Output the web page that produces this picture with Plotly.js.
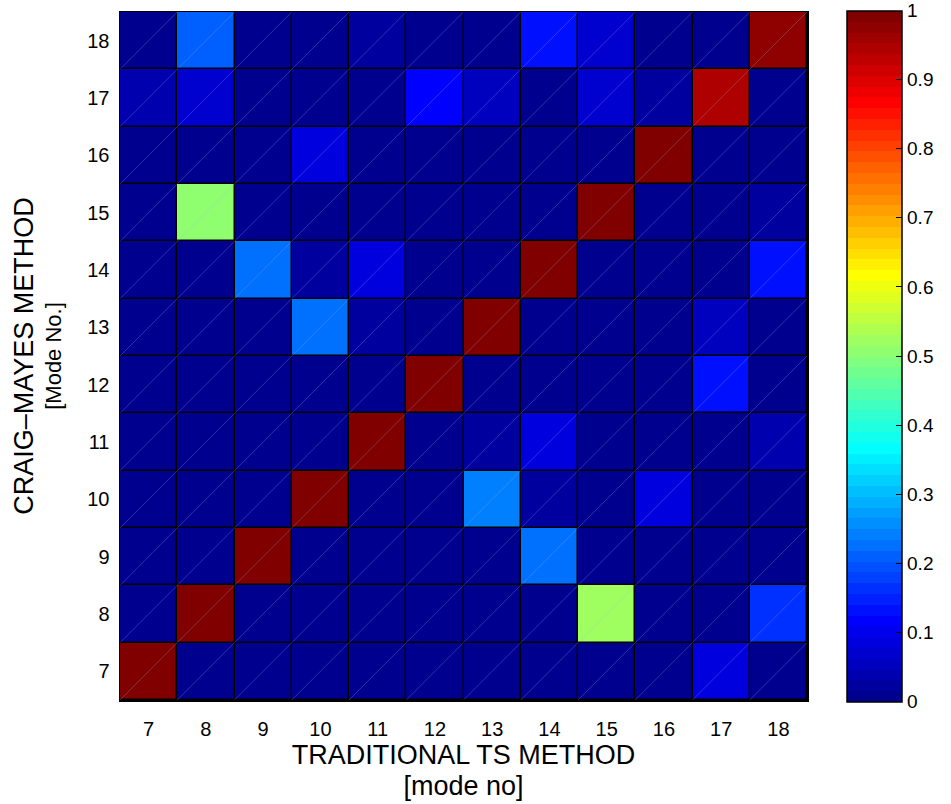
<!DOCTYPE html>
<html>
<head>
<meta charset="utf-8">
<script src="https://cdn.plot.ly/plotly-3.0.1.min.js"></script>
<style>html,body{margin:0;padding:0;background:#fff;}#chart{width:951px;height:804px;}</style>
</head>
<body>
<div id="chart"></div>
<script>
// Mode numbers (traditional TS method on x, Craig-Mayes method on y)
const xModes = [7, 8, 9, 10, 11, 12, 13, 14, 15, 16, 17, 18];
const yModes = [7, 8, 9, 10, 11, 12, 13, 14, 15, 16, 17, 18];

// MAC values, one row per Craig-Mayes mode (7 .. 18), columns are TS modes 7 .. 18
const mode7  = [0.99, 0.008, 0.008, 0.008, 0.008, 0.008, 0.008, 0.008, 0.008, 0.008, 0.085, 0.008];
const mode8  = [0.008, 0.99, 0.008, 0.008, 0.008, 0.008, 0.008, 0.008, 0.52, 0.008, 0.008, 0.16];
const mode9  = [0.008, 0.008, 0.99, 0.008, 0.008, 0.008, 0.008, 0.225, 0.008, 0.008, 0.008, 0.008];
const mode10 = [0.008, 0.008, 0.008, 0.99, 0.008, 0.008, 0.235, 0.02, 0.008, 0.085, 0.008, 0.008];
const mode11 = [0.008, 0.008, 0.008, 0.008, 0.99, 0.008, 0.025, 0.085, 0.008, 0.008, 0.005, 0.04];
const mode12 = [0.008, 0.008, 0.008, 0.008, 0.008, 0.99, 0.008, 0.008, 0.008, 0.008, 0.14, 0.008];
const mode13 = [0.008, 0.008, 0.008, 0.225, 0.02, 0.008, 0.99, 0.008, 0.008, 0.008, 0.055, 0.008];
const mode14 = [0.008, 0.008, 0.225, 0.025, 0.085, 0.008, 0.008, 0.99, 0.008, 0.008, 0.008, 0.13];
const mode15 = [0.008, 0.51, 0.008, 0.008, 0.008, 0.008, 0.008, 0.008, 0.99, 0.008, 0.008, 0.025];
const mode16 = [0.008, 0.008, 0.008, 0.085, 0.008, 0.008, 0.008, 0.008, 0.008, 0.99, 0.008, 0.008];
const mode17 = [0.04, 0.07, 0.008, 0.008, 0.008, 0.115, 0.055, 0.008, 0.07, 0.025, 0.945, 0.008];
const mode18 = [0.008, 0.21, 0.008, 0.008, 0.025, 0.008, 0.008, 0.14, 0.07, 0.008, 0.008, 0.975];

const zValues = [mode7, mode8, mode9, mode10, mode11, mode12, mode13, mode14, mode15, mode16, mode17, mode18];

// Colorbar ticks
const cbTicks = [0, 0.1, 0.2, 0.3, 0.4, 0.5, 0.6, 0.7, 0.8, 0.9, 1];
const cbTickText = ['0', '0.1', '0.2', '0.3', '0.4', '0.5', '0.6', '0.7', '0.8', '0.9', '1'];

// MATLAB-style jet(64), drawn as discrete steps
function jet64() {
  const m = 64, n = 16;
  const u = [];
  for (let j = 1; j <= n; j++) u.push(j / n);
  for (let j = 0; j < n - 1; j++) u.push(1);
  for (let j = n; j >= 1; j--) u.push(j / n);
  const get = (idx) => (idx >= 1 && idx <= u.length) ? u[idx - 1] : 0;
  const scale = [];
  for (let i = 1; i <= m; i++) {
    const r = get(i - 24), g = get(i - 8), b = get(i + 8);
    const c = 'rgb(' + Math.round(r * 255) + ',' + Math.round(g * 255) + ',' + Math.round(b * 255) + ')';
    scale.push([(i - 1) / m, c]);
    scale.push([i / m, c]);
  }
  return scale;
}

// faint diagonal facet lines inside every cell (surface rendering look)
const diagX = [], diagY = [];
xModes.forEach(function (xv) {
  yModes.forEach(function (yv) {
    diagX.push(xv - 0.5, xv + 0.5, null);
    diagY.push(yv - 0.5, yv + 0.5, null);
  });
});

const font = 'Liberation Sans, Arial, sans-serif';

const heat = {
  type: 'heatmap',
  x: xModes,
  y: yModes,
  z: zValues,
  zmin: 0,
  zmax: 1,
  colorscale: jet64(),
  xgap: 1.5,
  ygap: 1.5,
  hoverinfo: 'x+y+z',
  colorbar: {
    x: 1.058,
    xanchor: 'left',
    y: 0.5,
    yanchor: 'middle',
    len: 1.005,
    lenmode: 'fraction',
    thickness: 55,
    thicknessmode: 'pixels',
    outlinewidth: 1.5,
    outlinecolor: '#000',
    ticks: 'inside',
    ticklen: 6,
    tickcolor: '#000',
    tickvals: cbTicks,
    ticktext: cbTickText,
    tickfont: {family: font, size: 19, color: '#000'},
    xpad: 0,
    ypad: 0
  }
};

const diag = {
  type: 'scatter',
  mode: 'lines',
  x: diagX,
  y: diagY,
  line: {color: 'rgba(170,170,255,0.35)', width: 0.8},
  hoverinfo: 'skip',
  showlegend: false
};

const layout = {
  width: 951,
  height: 804,
  margin: {l: 120, r: 141, t: 10, b: 104},
  paper_bgcolor: '#fff',
  plot_bgcolor: '#000',
  font: {family: font, color: '#000'},
  showlegend: false,
  xaxis: {
    range: [6.5, 18.5],
    tickvals: xModes,
    ticktext: xModes.map(String),
    ticks: 'outside',
    ticklen: 10,
    tickcolor: 'rgba(0,0,0,0)',
    tickfont: {family: font, size: 20, color: '#000'},
    showgrid: false,
    zeroline: false,
    showline: true,
    linecolor: '#000',
    linewidth: 1.5,
    mirror: true,
    title: {
      text: '<span style="font-size:27px">TRADITIONAL TS METHOD</span><br><span style="font-size:27px">[mode no]</span>',
      font: {family: font, size: 24, color: '#000'},
      standoff: 8
    },
    automargin: false
  },
  yaxis: {
    range: [6.5, 18.5],
    tickvals: yModes,
    ticktext: yModes.map(String),
    ticks: 'outside',
    ticklen: 5,
    tickcolor: 'rgba(0,0,0,0)',
    tickfont: {family: font, size: 20, color: '#000'},
    showgrid: false,
    zeroline: false,
    showline: true,
    linecolor: '#000',
    linewidth: 1.5,
    mirror: true,
    title: {
      text: '<span style="font-size:27px">CRAIG\u2013MAYES METHOD</span><br>[Mode No.]',
      font: {family: font, size: 22, color: '#000'},
      standoff: 19
    },
    automargin: false
  }
};

Plotly.newPlot('chart', [heat, diag], layout, {displayModeBar: false, staticPlot: true});
</script>
</body>
</html>
